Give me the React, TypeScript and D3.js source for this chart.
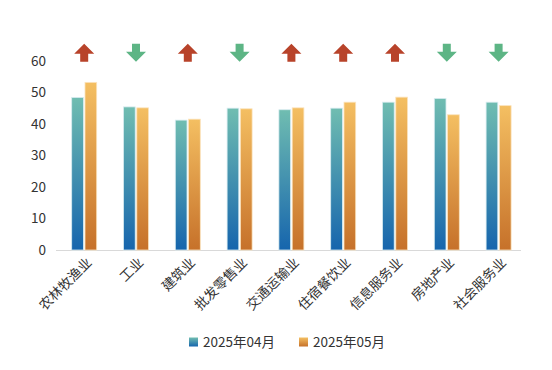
import React from 'react';
import * as d3 from 'd3';

const categories = ['农林牧渔业', '工业', '建筑业', '批发零售业', '交通运输业', '住宿餐饮业', '信息服务业', '房地产业', '社会服务业'];
const seriesNames = ['2025年04月', '2025年05月'];
const april = [48.5, 45.5, 41.3, 45.1, 44.6, 45.1, 47.0, 48.2, 47.0];
const may = [53.3, 45.2, 41.6, 44.9, 45.2, 47.0, 48.6, 43.0, 45.9];
const yTicks = [0, 10, 20, 30, 40, 50, 60];

const width = 552;
const height = 370;
const font = '"Noto Sans CJK SC", "Noto Sans", sans-serif';

export default function App() {
  var x = d3.scaleBand<string>()
    .domain(categories)
    .range([58.3, 524.5]);

  var y = d3.scaleLinear()
    .domain([0, 60])
    .range([250, 61.3]);

  var inner = d3.scaleBand<number>()
    .domain([0, 1])
    .range([0, 25])
    .paddingInner(0.12);

  var series = [april, may];

  // arrow shape, centred at 0,0 pointing up
  var arrowUp = 'M0,-9 L10,1 L4,1 L4,9 L-4,9 L-4,1 L-10,1 Z';

  return (
    <svg width={width} height={height} style={{ position: 'fixed', left: 0, top: 0, background: '#fff' }}>
      <defs>
        <linearGradient id="gBlue" x1="0" y1="0" x2="0" y2="1">
          <stop offset="0%" stopColor="#70bdb1" />
          <stop offset="100%" stopColor="#1665ad" />
        </linearGradient>
        <linearGradient id="gOrange" x1="0" y1="0" x2="0" y2="1">
          <stop offset="0%" stopColor="#f4bf62" />
          <stop offset="100%" stopColor="#c6712a" />
        </linearGradient>
      </defs>

      {yTicks.map(function(t) {
        return (
          <text key={t} x={46} y={y(t)} dy="0.35em" textAnchor="end"
            fontSize={13.5} fontFamily={font} fill="#333">{t}</text>
        );
      })}

      <line x1={56} x2={521} y1={y(0) + 0.5} y2={y(0) + 0.5} stroke="#d9d9d9" strokeWidth={1.2} />

      {categories.map(function(c, i) {
        var cx = x(c)! + x.bandwidth() / 2;
        var start = cx - 12.5;
        var up = may[i] > april[i];
        return (
          <g key={c}>
            {series.map(function(s, k) {
              return (
                <rect key={k}
                  x={start + inner(k)!}
                  y={y(s[i])}
                  width={inner.bandwidth()}
                  height={y(0) - y(s[i])}
                  fill={k === 0 ? 'url(#gBlue)' : 'url(#gOrange)'}
                  stroke={k === 0 ? '#d8ecf0' : '#fbe3bd'}
                  strokeWidth={0.8} />
              );
            })}
            <path d={arrowUp}
              transform={`translate(${cx},${52.8}) ${up ? '' : 'rotate(180)'}`}
              fill={up ? '#b8432a' : '#5db585'} />
            <text transform={`translate(${cx + 5},${260}) rotate(-45)`}
              textAnchor="end" dy="0.35em"
              fontSize={13.5} fontFamily={font} fill="#333">{c}</text>
          </g>
        );
      })}

      {seriesNames.map(function(n, k) {
        var lx = k === 0 ? 189 : 299;
        return (
          <g key={n}>
            <rect x={lx} y={337.5} width={9} height={9} fill={k === 0 ? 'url(#gBlue)' : 'url(#gOrange)'} />
            <text x={lx + 14} y={342} dy="0.35em" fontSize={13.5} fontFamily={font} fill="#333">{n}</text>
          </g>
        );
      })}
    </svg>
  );
}
